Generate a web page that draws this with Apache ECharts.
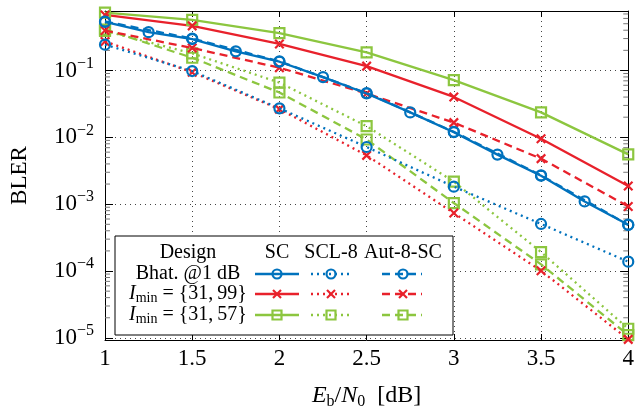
<!DOCTYPE html>
<html><head><meta charset="utf-8">
<script src="https://cdn.jsdelivr.net/npm/echarts@6/dist/echarts.min.js"></script>
<style>html,body{margin:0;padding:0;background:#fff}#c{width:637px;height:415px}</style>
</head><body><div id="c"></div>
<script>
// ---- data ----
const xFine = [1, 1.25, 1.5, 1.75, 2, 2.25, 2.5, 2.75, 3, 3.25, 3.5, 3.75, 4];
const xCoarse = [1, 1.5, 2, 2.5, 3, 3.5, 4];
const bhatSC  = [0.532, 0.374, 0.295, 0.193, 0.135, 0.0796, 0.0452, 0.0236, 0.0119, 0.00551, 0.00266, 0.0011, 0.000493];
const bhatSCL = [0.243, 0.098, 0.0271, 0.00716, 0.00183, 0.000506, 0.000138];
const bhatAut = [0.54, 0.30, 0.137, 0.046, 0.0121, 0.0027, 0.00049];
const i99SC   = [0.676, 0.464, 0.249, 0.116, 0.0402, 0.0095, 0.00187];
const i99SCL  = [0.272, 0.094, 0.0264, 0.00537, 0.000736, 0.000101, 0.0000095];
const i99Aut  = [0.395, 0.217, 0.110, 0.0452, 0.0166, 0.0048, 0.000925];
const i57SC   = [0.731, 0.570, 0.362, 0.187, 0.0718, 0.0236, 0.00556];
const i57SCL  = [0.39, 0.18, 0.0658, 0.01466, 0.00217, 0.000192, 0.0000137];
const i57Aut  = [0.41, 0.155, 0.0468, 0.00927, 0.00104, 0.000126, 0.000011];
const xTickLabels = ['1', '1.5', '2', '2.5', '3', '3.5', '4'];
const designNames = ['Bhat. @1 dB', 'I_min = {31,99}', 'I_min = {31,57}'];
const decoderNames = ['SC', 'SCL-8', 'Aut-8-SC'];

// ---- style ----
const FONT = "'Liberation Serif','DejaVu Serif',serif";
const C = {blue: '#0072BD', red: '#E8212B', green: '#8CC63F'};
const DOT = [2, 4], DASH = [8, 5];
const XPATH = 'path://M0,0L10,10M0,10L10,0';
const Y_MIN = 9.3e-6, Y_MAX = 0.775;
const LW_SERIES = 2.3;

function zip(xs, ys) { return xs.map((x, i) => [x, ys[i]]); }
function mk(name, xs, ys, color, type, symbol, z) {
  return {
    name, type: 'line', data: zip(xs, ys), z: z,
    lineStyle: {color, width: LW_SERIES, type, cap: 'butt'},
    symbol, symbolSize: symbol === XPATH ? 8.5 : 10,
    showAllSymbol: true,
    itemStyle: {color: 'rgba(255,255,255,0)', borderColor: color, borderWidth: 2.2},
    emphasis: {disabled: true}, clip: false
  };
}

const minorVals = [];
for (let e = -6; e <= 0; e++) for (let k = 2; k <= 9; k++) {
  const v = k * Math.pow(10, e);
  if (v > Y_MIN && v < Y_MAX) minorVals.push([1, v]);
}

const series = [
  mk('i57SCL', xCoarse, i57SCL, C.green, DOT, 'rect', 2),
  mk('i57Aut', xCoarse, i57Aut, C.green, DASH, 'rect', 2),
  mk('i99SCL', xCoarse, i99SCL, C.red, DOT, XPATH, 3),
  mk('i99Aut', xCoarse, i99Aut, C.red, DASH, XPATH, 3),
  mk('bhatSCL', xCoarse, bhatSCL, C.blue, DOT, 'circle', 4),
  mk('i57SC', xCoarse, i57SC, C.green, 'solid', 'rect', 5),
  mk('i99SC', xCoarse, i99SC, C.red, 'solid', XPATH, 5),
  mk('bhatSC', xFine, bhatSC, C.blue, 'solid', 'circle', 6),
  mk('bhatAut', xCoarse, bhatAut, C.blue, DASH, 'circle', 6),
  {
    type: 'custom', data: minorVals, silent: true, z: 1,
    renderItem: function (params, api) {
      const v = api.value(1);
      const l = api.coord([1, v]);
      const r = api.coord([4, v]);
      return {type: 'group', children: [
        {type: 'line', shape: {x1: l[0], y1: l[1], x2: l[0] + 5, y2: l[1]}, style: {stroke: '#777', lineWidth: 1}},
        {type: 'line', shape: {x1: r[0] - 5, y1: r[1], x2: r[0], y2: r[1]}, style: {stroke: '#777', lineWidth: 1}}
      ]};
    }
  }
];

// ---- legend (graphic) ----
const LX = 115, LY = 236, LW = 338, LH = 99;
const colX = [277, 331, 403];
const colSpan = [[255, 299], [311, 353], [382, 422]];
const headY = 253;
const rowY = [274, 294, 315];
const rowColor = [C.blue, C.red, C.green];
const rowSym = ['circle', 'x', 'rect'];
const colDash = [null, [2, 4], [8, 5]];
const richT = {
  i: {fontFamily: FONT, fontSize: 20, fontStyle: 'italic', lineHeight: 22},
  s: {fontFamily: FONT, fontSize: 14, lineHeight: 14, verticalAlign: 'bottom'},
  n: {fontFamily: FONT, fontSize: 20, lineHeight: 22}
};
function designText(t) {
  if (t.indexOf('I_min') === 0) return '{i|I}{s|min}{n| = }' + t.slice(8).replace(',', ',\u2009');
  return t;
}
const g = [{type: 'rect', shape: {x: LX, y: LY, width: LW, height: LH}, style: {fill: '#fff', stroke: '#000', lineWidth: 1}, z: 100}];
g.push({type: 'text', x: 188, y: headY, z: 101, style: {text: 'Design', font: '20px ' + FONT, fill: '#000', align: 'center', verticalAlign: 'middle'}});
decoderNames.forEach((d, j) => g.push({type: 'text', x: colX[j], y: headY, z: 101, style: {text: d, font: '20px ' + FONT, fill: '#000', align: 'center', verticalAlign: 'middle'}}));
designNames.forEach((d, i) => {
  g.push({type: 'text', x: 188, y: rowY[i], z: 101, style: {text: designText(d), rich: richT, font: '20px ' + FONT, fill: '#000', align: 'center', verticalAlign: 'middle'}});
  colSpan.forEach((sp, j) => {
    const col = rowColor[i];
    g.push({type: 'line', z: 101, shape: {x1: sp[0], y1: rowY[i], x2: sp[1], y2: rowY[i]}, style: {stroke: col, lineWidth: LW_SERIES, lineDash: colDash[j]}});
    const cx = colX[j], cy = rowY[i];
    if (rowSym[i] === 'circle') g.push({type: 'circle', z: 102, shape: {cx, cy, r: 4.5}, style: {fill: 'none', stroke: col, lineWidth: 2.2}});
    else if (rowSym[i] === 'rect') g.push({type: 'rect', z: 102, shape: {x: cx - 4.5, y: cy - 4.5, width: 9, height: 9}, style: {fill: 'none', stroke: col, lineWidth: 2.2}});
    else {
      g.push({type: 'line', z: 102, shape: {x1: cx - 4, y1: cy - 4, x2: cx + 4, y2: cy + 4}, style: {stroke: col, lineWidth: 2.2}});
      g.push({type: 'line', z: 102, shape: {x1: cx - 4, y1: cy + 4, x2: cx + 4, y2: cy - 4}, style: {stroke: col, lineWidth: 2.2}});
    }
  });
});

const gridDots = {show: true, lineStyle: {color: '#444', type: [1, 4], width: 1}};
const chart = echarts.init(document.getElementById('c'), null, {renderer: 'canvas'});
chart.setOption({
  animation: false,
  backgroundColor: '#fff',
  textStyle: {fontFamily: FONT},
  grid: {left: 104, right: 7, top: 11, bottom: 72, containLabel: false},
  xAxis: [{
    type: 'value', min: 1, max: 4, interval: 0.5,
    axisLine: {show: true, onZero: false, lineStyle: {color: '#000', width: 1}},
    axisTick: {show: true, inside: true, length: 6, lineStyle: {color: '#000'}},
    axisLabel: {fontFamily: FONT, fontSize: 23, color: '#000', margin: 7,
      formatter: v => xTickLabels[Math.round((v - 1) * 2)] || ''},
    splitLine: gridDots,
    name: '{i|E}{b|b}{n|/}{i|N}{b|0}{n|  [dB]}', nameLocation: 'middle', nameGap: 42,
    nameTextStyle: {rich: {
      i: {fontFamily: FONT, fontSize: 24, fontStyle: 'italic', lineHeight: 28, color: '#000'},
      b: {fontFamily: FONT, fontSize: 16, lineHeight: 16, verticalAlign: 'bottom', color: '#000'},
      n: {fontFamily: FONT, fontSize: 24, lineHeight: 28, color: '#000'}
    }}
  }, {
    type: 'value', min: 1, max: 4, interval: 0.5, position: 'top',
    axisLine: {show: true, onZero: false, lineStyle: {color: '#000', width: 1}},
    axisTick: {show: true, inside: true, length: 6, lineStyle: {color: '#000'}},
    axisLabel: {show: false}, splitLine: {show: false}
  }],
  yAxis: [{
    type: 'log', logBase: 10, min: Y_MIN, max: Y_MAX, splitNumber: 5,
    axisLine: {show: true, onZero: false, lineStyle: {color: '#000', width: 1}},
    axisTick: {show: true, inside: true, length: 8, lineStyle: {color: '#000'}},
    axisLabel: {margin: 11, color: '#000', showMinLabel: false, showMaxLabel: false,
      formatter: v => {
        const e = Math.log10(v), r = Math.round(e);
        if (Math.abs(e - r) > 1e-6) return '';
        return '{n|10}{s|' + (r < 0 ? '\u2212' : '') + Math.abs(r) + '}';
      },
      rich: {
        n: {fontFamily: FONT, fontSize: 23, lineHeight: 30, color: '#000'},
        s: {fontFamily: FONT, fontSize: 16, lineHeight: 16, verticalAlign: 'top', color: '#000'}
      }},
    splitLine: gridDots,
    name: 'BLER', nameLocation: 'middle', nameGap: 74, nameRotate: 90,
    nameTextStyle: {fontFamily: FONT, fontSize: 23, color: '#000'}
  }, {
    type: 'log', logBase: 10, min: Y_MIN, max: Y_MAX, splitNumber: 5, position: 'right',
    axisLine: {show: true, onZero: false, lineStyle: {color: '#000', width: 1}},
    axisTick: {show: true, inside: true, length: 8, lineStyle: {color: '#000'}},
    axisLabel: {show: false}, splitLine: {show: false}
  }],
  series: series,
  graphic: g
});
</script></body></html>
